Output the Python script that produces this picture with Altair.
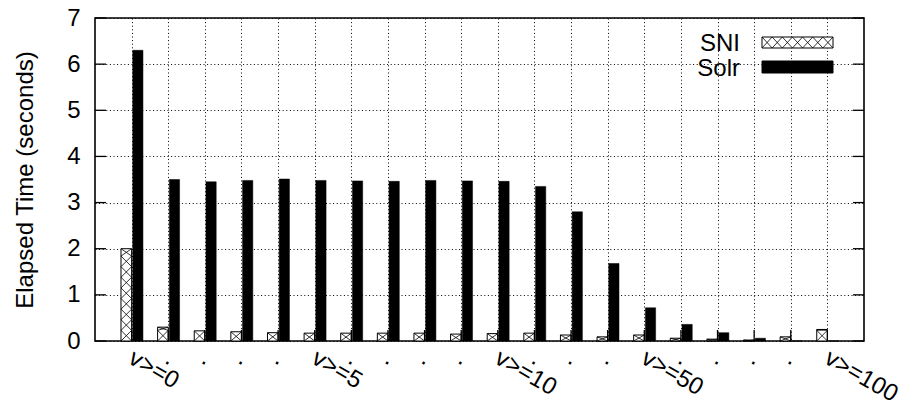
import altair as alt
import pandas as pd

# ---- data ----
groups = list(range(20))
tick_labels = ["v>=0", ".", ".", ".", ".", "v>=5", ".", ".", ".", ".",
               "v>=10", ".", ".", ".", "v>=50", ".", ".", ".", ".", "v>=100"]
sni = [2.00, 0.30, 0.22, 0.20, 0.18, 0.17, 0.17, 0.17, 0.17, 0.15,
       0.16, 0.17, 0.13, 0.09, 0.13, 0.06, 0.04, 0.02, 0.09, 0.25]
solr = [6.30, 3.50, 3.45, 3.48, 3.51, 3.48, 3.47, 3.46, 3.48, 3.47,
        3.46, 3.35, 2.80, 1.68, 0.72, 0.36, 0.18, 0.06, 0.0, 0.0]
series_names = ["SNI", "Solr"]
y_ticks = list(range(0, 8))

# ---- geometry ----
XMIN, XMAX = -1, 20
YMIN, YMAX = 0, 7
W, H = 769, 323
ux = (XMAX - XMIN) / W   # data units per pixel (x)
uy = (YMAX - YMIN) / H   # data units per pixel (y)
FONT = "Liberation Sans"
FS = 24

xs = alt.Scale(domain=[XMIN, XMAX], nice=False, zero=False)
ys = alt.Scale(domain=[YMIN, YMAX], nice=False, zero=False)

label_expr = "[" + ",".join("'" + s + "'" for s in tick_labels) + "][datum.value]"

GRID = dict(grid=True, gridColor="black", gridDash=[1, 2.6], gridWidth=1, gridOpacity=1)
X_AXIS = alt.Axis(
    values=groups, labelExpr=label_expr, labelAngle=30, labelAlign="left",
    labelBaseline="alphabetic", labelPadding=21, labelOffset=-5, labelFontSize=FS,
    labelFont=FONT, labelColor="black", labelOverlap=False, labelFlush=False,
    labelBound=False, ticks=False, domain=False, title="", **GRID)
Y_AXIS = alt.Axis(
    values=y_ticks, labelFontSize=FS, labelFont=FONT, labelColor="black", labelPadding=15,
    ticks=False, domain=False,
    title="Elapsed Time (seconds)", titleFont=FONT, titleFontSize=FS,
    titleFontWeight="normal", titleColor="black", titleX=-70, titleY=H / 2,
    titleAngle=-90, titleAlign="center", titleBaseline="middle", **GRID)


def X(f):
    return alt.X(f, scale=xs, axis=X_AXIS)


def Y(f):
    return alt.Y(f, scale=ys, axis=Y_AXIS)


bars = pd.DataFrame({"g": groups, "sni": sni, "solr": solr})
bars["sni_x0"] = bars["g"] - 0.29
bars["sni_x1"] = bars["g"] + 0.0
bars["solr_x0"] = bars["g"] + 0.03
bars["solr_x1"] = bars["g"] + 0.31
bars["zero"] = 0.0

# crosshatch segments for SNI bars (derived from the bar rectangles)
cell = 0.29 / ux * uy
hatch_rows = []
for _, r in bars.iterrows():
    v = r["sni"]
    k = 0
    while k * cell < v - 1e-9:
        y0 = k * cell
        y1 = min((k + 1) * cell, v)
        hatch_rows.append({"x0": r["sni_x0"], "x1": r["sni_x1"], "ya": y0, "yb": y1})
        hatch_rows.append({"x0": r["sni_x0"], "x1": r["sni_x1"], "ya": y1, "yb": y0})
        k += 1

# legend sample (pixel layout inside the plot, converted to data units)
LX0, LX1 = 667, 738
L1Y0, L1Y1 = 19, 30
L2Y0, L2Y1 = 43, 55
ncell = 7
cw = (LX1 - LX0) / ncell
for k in range(ncell):
    a = XMIN + (LX0 + k * cw) * ux
    b = XMIN + (LX0 + (k + 1) * cw) * ux
    t = YMAX - L1Y0 * uy
    btm = YMAX - L1Y1 * uy
    hatch_rows.append({"x0": a, "x1": b, "ya": btm, "yb": t})
    hatch_rows.append({"x0": a, "x1": b, "ya": t, "yb": btm})
hatch = pd.DataFrame(hatch_rows)

sni_layer = alt.Chart(bars).mark_rect(fill="white", stroke="black", strokeWidth=1).encode(
    x=X("sni_x0:Q"), x2="sni_x1:Q", y=Y("zero:Q"), y2="sni:Q")

hatch_layer = alt.Chart(hatch).mark_rule(color="black", strokeWidth=0.8).encode(
    x=X("x0:Q"), x2="x1:Q", y=Y("ya:Q"), y2="yb:Q")

solr_layer = alt.Chart(bars).mark_rect(fill="black", stroke="black", strokeWidth=0.5).encode(
    x=X("solr_x0:Q"), x2="solr_x1:Q", y=Y("zero:Q"), y2="solr:Q")

# inward tick marks
TL = 11
lt = pd.DataFrame({"y": y_ticks})
lt["xa"] = XMIN
lt["xb"] = XMIN + TL * ux
rt = pd.DataFrame({"y": y_ticks})
rt["xa"] = XMAX - TL * ux
rt["xb"] = XMAX
bt = pd.DataFrame({"x": groups})
bt["ya"] = 0.0
bt["yb"] = TL * uy

left_ticks = alt.Chart(lt).mark_rule(color="black", strokeWidth=1.3).encode(
    x=X("xa:Q"), x2="xb:Q", y=Y("y:Q"))
right_ticks = alt.Chart(rt).mark_rule(color="black", strokeWidth=1.3).encode(
    x=X("xa:Q"), x2="xb:Q", y=Y("y:Q"))
bottom_ticks = alt.Chart(bt).mark_rule(color="black", strokeWidth=1.3).encode(
    x=X("x:Q"), y=Y("ya:Q"), y2="yb:Q")

# legend
leg_txt = pd.DataFrame({"name": series_names, "py": [24.5, 49.5]})
leg_txt["x"] = XMIN + 645 * ux
leg_txt["y"] = YMAX - leg_txt["py"] * uy
legend_text = alt.Chart(leg_txt).mark_text(
    align="right", baseline="middle", font=FONT, fontSize=FS, color="black", dy=1).encode(
    x=X("x:Q"), y=Y("y:Q"), text="name:N")

leg_box = pd.DataFrame({"name": series_names,
                        "x0": [XMIN + LX0 * ux] * 2, "x1": [XMIN + LX1 * ux] * 2,
                        "y0": [YMAX - L1Y1 * uy, YMAX - L2Y1 * uy],
                        "y1": [YMAX - L1Y0 * uy, YMAX - L2Y0 * uy],
                        "fill": ["white", "black"]})
legend_box = alt.Chart(leg_box).mark_rect(stroke="black", strokeWidth=1).encode(
    x=X("x0:Q"), x2="x1:Q", y=Y("y0:Q"), y2="y1:Q",
    fill=alt.Fill("fill:N", scale=None))

chart = alt.layer(
    sni_layer, legend_box, hatch_layer, solr_layer, left_ticks, right_ticks, bottom_ticks, legend_text
).properties(
    width=W, height=H,
    autosize=alt.AutoSizeParams(type="none"),
    padding={"left": 87, "top": 10, "right": 42, "bottom": 66},
    background="white",
).configure_view(stroke="black", strokeWidth=1.6)

chart.save("out.html", embed_options={"renderer": "svg", "actions": False})
